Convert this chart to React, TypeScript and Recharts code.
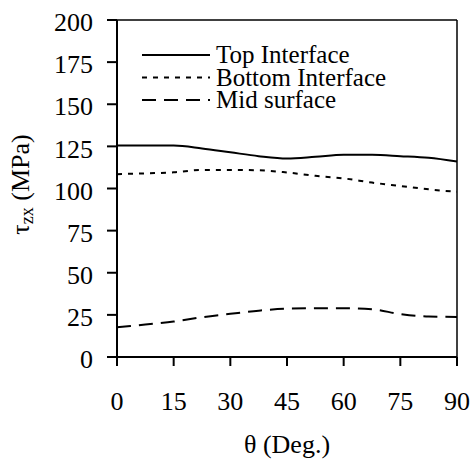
import React from 'react';
import { LineChart, Line, XAxis, YAxis, ReferenceLine, Legend, Label } from 'recharts';

const FONT = 'Liberation Serif, Tinos, DejaVu Serif, serif';

// θ in degrees
const angles = [0, 7.5, 15, 22.5, 30, 37.5, 45, 52.5, 60, 67.5, 75, 82.5, 90];
const topInterface = [125.5, 125.5, 125.5, 123.8, 121.5, 119.2, 117.8, 118.8, 120, 120, 119.2, 118.2, 116];
const bottomInterface = [108.5, 109, 109.6, 111, 111, 110.8, 109.5, 107.5, 106, 103.5, 101.5, 99.5, 98];
const midSurface = [17.6, 19.3, 21, 23.6, 25.6, 27.5, 28.7, 28.9, 28.9, 28.3, 25.5, 24, 23.8];

const xTicks = [0, 15, 30, 45, 60, 75, 90];
const yTicks = [0, 25, 50, 75, 100, 125, 150, 175, 200];

const series = [
  { key: 'top', name: 'Top Interface', dash: undefined as string | undefined },
  { key: 'bottom', name: 'Bottom Interface', dash: '5 6' },
  { key: 'mid', name: 'Mid surface', dash: '14 8' },
];

const data = angles.map((a, i) => ({
  angle: a,
  top: topInterface[i],
  bottom: bottomInterface[i],
  mid: midSurface[i],
}));

const LegendBox = () => (
  <svg width={260} height={84} style={{ fontFamily: FONT, overflow: 'visible' }}>
    {series.map((s, i) => (
      <g key={s.key}>
        <line x1={1} x2={69} y1={15 + i * 22.5} y2={15 + i * 22.5} stroke="#000" strokeWidth={2} strokeDasharray={s.dash} />
        <text x={75} y={23 + i * 22.5} style={{ fontFamily: FONT }} fontSize={25} fill="#000">
          {s.name}
        </text>
      </g>
    ))}
  </svg>
);

const YTitle = (props: any) => {
  const vb = props.viewBox || { x: 0, y: 20, width: 117, height: 337 };
  const x = vb.x + 29;
  const y = vb.y + vb.height / 2 - 4;
  return (
    <text x={x} y={y} transform={`rotate(-90, ${x}, ${y})`} textAnchor="middle" style={{ fontFamily: FONT }} fontSize={26} fill="#000">
      τ<tspan fontSize={18} dy={4}>zx</tspan>
      <tspan dy={-4}> (MPa)</tspan>
    </text>
  );
};

const App = () => {
  const tickStyle = { fill: '#000', fontSize: 26, style: { fontFamily: FONT } };
  return (
    <div style={{ position: 'absolute', left: 0, top: 0, background: '#fff', fontFamily: FONT }}>
      <LineChart width={472} height={459} data={data} margin={{ top: 20, right: 15, bottom: 0, left: 0 }} style={{ fontFamily: FONT }}>
        <XAxis
          dataKey="angle"
          type="number"
          domain={[0, 90]}
          ticks={xTicks}
          height={102}
          tickSize={9}
          tickMargin={26}
          tick={tickStyle}
          axisLine={{ stroke: '#000', strokeWidth: 2 }}
          tickLine={{ stroke: '#000', strokeWidth: 2 }}
        >
          <Label value="θ (Deg.)" position="insideBottom" offset={6} fill="#000" fontSize={26} style={{ fontFamily: FONT }} />
        </XAxis>
        <YAxis
          type="number"
          domain={[0, 200]}
          ticks={yTicks}
          width={117}
          tickSize={10}
          tickMargin={14}
          tick={{ ...tickStyle, dy: 2 }}
          axisLine={{ stroke: '#000', strokeWidth: 2 }}
          tickLine={{ stroke: '#000', strokeWidth: 2 }}
          label={<YTitle />}
        />
        <ReferenceLine y={200} stroke="#000" strokeWidth={1.5} />
        <ReferenceLine x={90} stroke="#000" strokeWidth={1.5} />
        <Legend
          layout="vertical"
          align="center"
          verticalAlign="middle"
          content={<LegendBox />}
          wrapperStyle={{ left: 141, top: 40, width: 260, height: 84 }}
        />
        {series.map((s) => (
          <Line
            key={s.key}
            dataKey={s.key}
            name={s.name}
            type="monotone"
            stroke="#000"
            strokeWidth={2}
            strokeDasharray={s.dash}
            dot={false}
            activeDot={false}
            isAnimationActive={false}
          />
        ))}
      </LineChart>
    </div>
  );
};

export default App;
